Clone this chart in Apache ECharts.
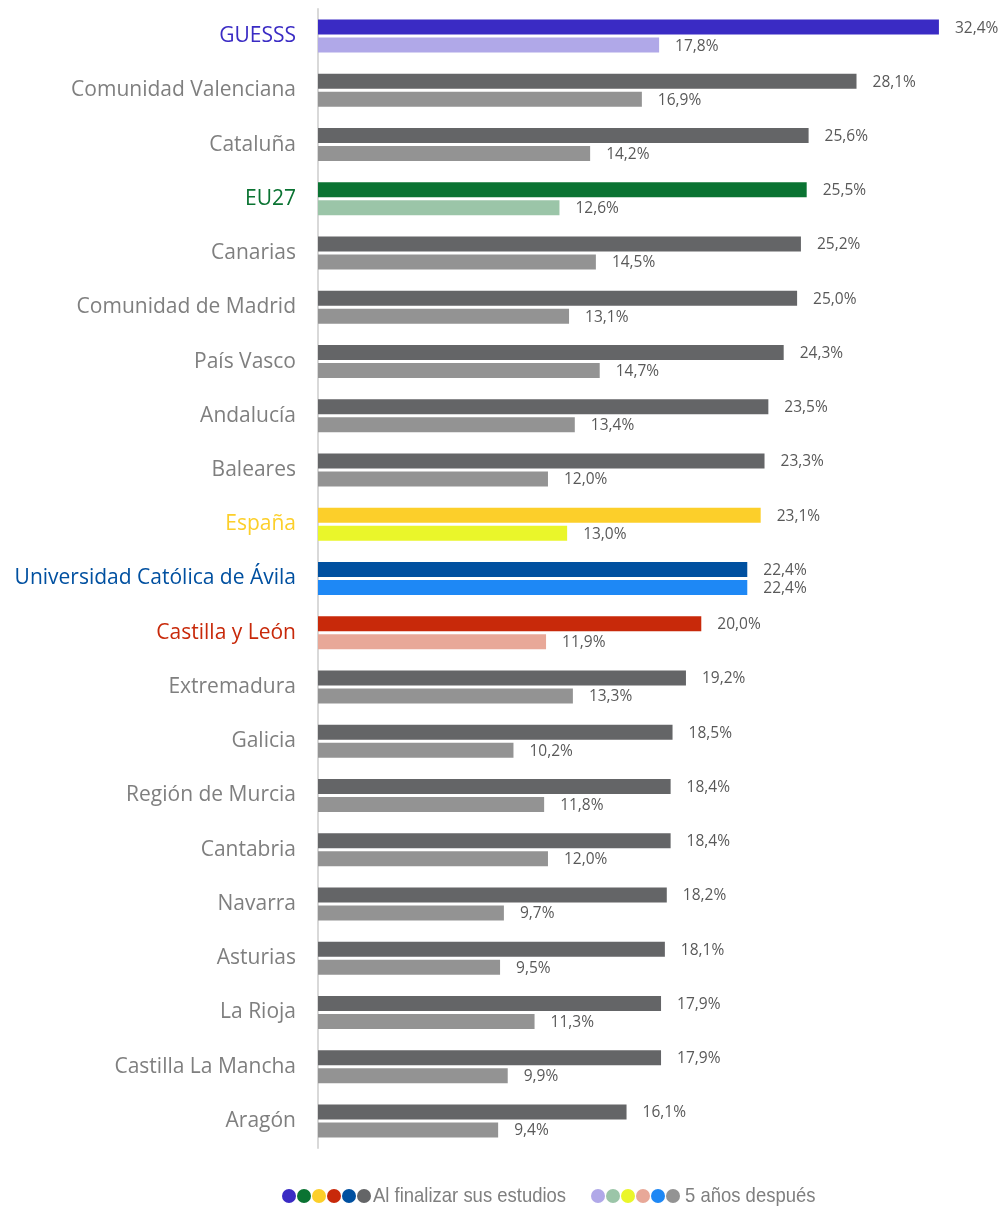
<!DOCTYPE html>
<html>
<head>
<meta charset="utf-8">
<script src="https://cdn.jsdelivr.net/npm/echarts@6/dist/echarts.min.js"></script>
<style>
html,body{margin:0;padding:0;background:#fff;}
#chart{width:1002px;height:1207px;}
</style>
</head>
<body>
<div id="chart"></div>
<script>
var categories = ['GUESSS','Comunidad Valenciana','Cataluña','EU27','Canarias','Comunidad de Madrid','País Vasco','Andalucía','Baleares','España','Universidad Católica de Ávila','Castilla y León','Extremadura','Galicia','Región de Murcia','Cantabria','Navarra','Asturias','La Rioja','Castilla La Mancha','Aragón'];
var alFinalizar = [32.4,28.1,25.6,25.5,25.2,25.0,24.3,23.5,23.3,23.1,22.4,20.0,19.2,18.5,18.4,18.4,18.2,18.1,17.9,17.9,16.1];
var cincoAnos = [17.8,16.9,14.2,12.6,14.5,13.1,14.7,13.4,12.0,13.0,22.4,11.9,13.3,10.2,11.8,12.0,9.7,9.5,11.3,9.9,9.4];
var seriesNames = ['Al finalizar sus estudios','5 años después'];

// highlight colours per category: [label, dark bar, light bar]
var highlight = {
  'GUESSS': ['#3a2bc4','#3a2bc4','#b0a8e8'],
  'EU27': ['#0a7332','#0a7332','#9bc5a8'],
  'España': ['#fccf2a','#fccf2a','#eaf62a'],
  'Universidad Católica de Ávila': ['#0050a0','#0050a0','#1e88f5'],
  'Castilla y León': ['#c8290a','#c8290a','#e8a898']
};
var defaultColors = ['#7f7f7f','#646567','#939393'];
function colorsFor(c){ return highlight[c] || defaultColors; }

var legendDark = ['#3a2bc4','#0a7332','#fccf2a','#c8290a','#0050a0','#646567'];
var legendLight = ['#b0a8e8','#9bc5a8','#eaf62a','#e8a898','#1e88f5','#939393'];

var FONT = '"Open Sans", sans-serif';
function fmt(p){ return p.value.toFixed(1).replace('.', ',') + '%'; }

var richStyles = {};
categories.forEach(function(c, i){
  richStyles['c' + i] = {color: colorsFor(c)[0], fontSize: 21, fontFamily: FONT};
});

function makeSeries(idx, values){
  return {
    name: seriesNames[idx],
    type: 'bar',
    barWidth: 15,
    barGap: '20%',
    data: values.map(function(v, i){
      return {value: v, itemStyle: {color: colorsFor(categories[i])[idx + 1]}};
    }),
    label: {
      show: true,
      position: 'right',
      distance: 16,
      formatter: fmt,
      color: '#595959',
      fontSize: 15.5,
      fontFamily: FONT,
      offset: [0, 1]
    },
    animation: false
  };
}

var legendGraphics = [];
function addLegendGroup(x0, colors, text, textX){
  colors.forEach(function(col, i){
    legendGraphics.push({type:'circle', shape:{cx: x0 + i*15, cy: 1196, r: 7}, style:{fill: col}});
  });
  legendGraphics.push({type:'text', x: textX, y: 1196, scaleX: 0.88, style:{text: text, fill:'#7f7f7f', font: '21px "Liberation Sans", Arial, sans-serif', textVerticalAlign:'middle'}});
}
addLegendGroup(289, legendDark, seriesNames[0], 373);
addLegendGroup(598, legendLight, seriesNames[1], 685);

var chart = echarts.init(document.getElementById('chart'));
chart.setOption({
  backgroundColor: '#fff',
  animation: false,
  grid: {left: 318, top: 9, width: 642, height: 1139, containLabel: false},
  xAxis: {type: 'value', min: 0, max: 33.5, show: false},
  yAxis: {
    type: 'category',
    data: categories,
    inverse: true,
    axisLine: {show: true, lineStyle: {color: '#d9d9d9', width: 2}},
    axisTick: {show: false},
    axisLabel: {
      margin: 22,
      formatter: function(v, i){ return '{c' + i + '|' + v + '}'; },
      rich: richStyles
    }
  },
  series: [makeSeries(0, alFinalizar), makeSeries(1, cincoAnos)],
  graphic: legendGraphics
});
</script>
</body>
</html>
